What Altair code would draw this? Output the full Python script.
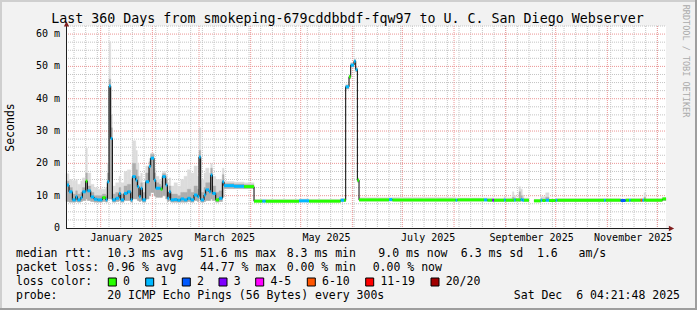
import altair as alt
import pandas as pd

# ---------------- data ----------------
seg_date = [
    "2024-12-11T04:21:48Z", "2024-12-13", "2024-12-15", "2024-12-17", "2024-12-18",
    "2024-12-20", "2024-12-21", "2024-12-23", "2024-12-24", "2024-12-26",
    "2024-12-28", "2024-12-30", "2025-01-02", "2025-01-04", "2025-01-05",
    "2025-01-06", "2025-01-07", "2025-01-08", "2025-01-10", "2025-01-12",
    "2025-01-13", "2025-01-15", "2025-01-17", "2025-01-19", "2025-01-20",
    "2025-01-22", "2025-01-23", "2025-01-24", "2025-01-25", "2025-01-26",
    "2025-01-28", "2025-01-30", "2025-01-31", "2025-02-02", "2025-02-03",
    "2025-02-05", "2025-02-06", "2025-02-07", "2025-02-09", "2025-02-10",
    "2025-02-11", "2025-02-12", "2025-02-14", "2025-02-16", "2025-02-18",
    "2025-02-20", "2025-02-22", "2025-02-24", "2025-02-26", "2025-02-28",
    "2025-03-01", "2025-03-02", "2025-03-04", "2025-03-05", "2025-03-07",
    "2025-03-08", "2025-03-09", "2025-03-11", "2025-03-13", "2025-03-15",
    "2025-03-16", "2025-03-22", "2025-03-28", "2025-04-03", "2025-04-08",
    "2025-04-10", "2025-04-30", "2025-05-06", "2025-05-25", "2025-05-27",
    "2025-05-28", "2025-05-30", "2025-05-31", "2025-06-02", "2025-06-03",
    "2025-06-04", "2025-06-05", "2025-06-23", "2025-06-25", "2025-08-02",
    "2025-08-03", "2025-08-19", "2025-08-21", "2025-08-24", "2025-08-25",
    "2025-08-31", "2025-09-01", "2025-09-05", "2025-09-06", "2025-09-07",
    "2025-09-09", "2025-09-10", "2025-09-11", "2025-09-12", "2025-09-15",
    "2025-09-18", "2025-09-22", "2025-09-23", "2025-09-25", "2025-09-27",
    "2025-10-01", "2025-10-02", "2025-10-30", "2025-10-31", "2025-11-09",
    "2025-11-12", "2025-11-14", "2025-11-15", "2025-11-21", "2025-11-22",
    "2025-11-23", "2025-11-24", "2025-12-04",
]
med_ms = [
    13.3, 11.2, 8.7, 9.7, 8.7, 9.4, 11.2, 14.5, 11.5, 9.6,
    8.9, 8.7, 9.4, 8.7, 14.3, 43.9, 27.7, 8.7, 9.2, 10.7,
    8.7, 10.7, 11.2, 8.7, 15.9, 14.8, 12.8, 9.7, 12.3, 8.7,
    14.3, 19.0, 21.6, 14.8, 12.3, 12.3, 12.0, 15.9, 13.3, 9.2,
    11.2, 8.7, 8.8, 8.6, 9.0, 8.7, 9.2, 8.7, 10.2, 9.7,
    22.0, 8.7, 10.2, 11.8, 11.2, 16.4, 10.7, 8.7, 9.2, 14.3,
    13.1, 12.9, 12.8, 8.3, 8.3, 8.3, 8.4, 8.3, 8.6, 8.6,
    43.7, 46.8, 50.4, 51.6, 49.0, 14.8, 8.7, 8.8, 8.7, 8.6,
    8.7, 8.7, 8.6, 8.6, 8.6, 8.7, 8.6, 8.6, 8.7, 8.7,
    8.7, 8.8, 8.6, 8.6, None, 8.4, 8.6, 8.5, 8.6, 8.5,
    8.6, 8.6, 8.6, 8.6, 8.5, 8.6, 8.6, 8.6, 8.6, 8.6,
    8.7, 8.6, 9.0,
]
loss_cls = [
    "1", "1", "1", "1", "1", "1", "1", "0", "1", "1",
    "1", "1", "0", "1", "1", "1", "1", "1", "1", "1",
    "1", "1", "1", "1", "1", "1", "1", "1", "1", "1",
    "1", "1", "1", "1", "1", "1", "0", "1", "1", "1",
    "1", "1", "1", "1", "1", "1", "1", "1", "1", "1",
    "1", "1", "1", "1", "1", "1", "1", "0", "1", "1",
    "1", "1", "0", "0", "1", "0", "1", "0", "1", "0",
    "1", "0", "1", "1", "1", "0", "0", "1", "0", "1",
    "0", "1", "0", "3", "0", "1", "0", "0", "1", "0",
    "0", "1", "1", "0", None, "0", "1", "0", "1", "0",
    "1", "0", "1", "0", "2", "0", "1", "0", "6-10", "1",
    "0", "0", "0",
]
smoke_lo = [
    8.2, 8.0, 8.0, 8.2, 8.0, 8.2, 8.5, 9.0, 8.5, 8.2,
    8.0, 8.0, 8.2, 8.0, 9.0, 9.0, 9.0, 8.0, 8.2, 8.5,
    8.0, 8.5, 8.5, 8.0, 9.0, 9.0, 8.5, 8.2, 8.5, 8.0,
    9.0, 10.0, 11.0, 10.0, 9.5, 9.5, 9.5, 10.0, 9.0, 8.2,
    8.5, 8.0, 8.0, 8.0, 8.0, 8.0, 8.2, 8.0, 8.5, 8.2,
    9.0, 8.0, 8.2, 8.5, 8.5, 9.0, 8.5, 8.0, 8.2, 9.5,
    12.2, 12.2, 12.2, 8.1, 8.1, 8.1, 8.1, 8.1, 8.2, 8.2,
    43.0, 46.2, 49.8, 51.0, 48.4, 14.2, 8.4, 8.4, 8.4, 8.4,
    8.4, 8.4, 8.4, 8.4, 8.3, 8.3, 8.3, 8.3, 8.3, 8.3,
    8.3, 8.3, 8.3, 8.3, None, 8.2, 8.3, 8.3, 8.3, 8.3,
    8.3, 8.3, 8.3, 8.3, 8.3, 8.3, 8.3, 8.3, 8.3, 8.3,
    8.3, 8.3, 8.5,
]
smoke_mid = [
    14.5, 12.5, 10.5, 11.5, 10.5, 11.0, 12.5, 17.0, 13.0, 11.0,
    10.0, 10.0, 10.5, 10.0, 17.0, 46.0, 31.0, 10.5, 11.0, 12.5,
    10.5, 13.0, 13.5, 11.0, 20.0, 18.0, 16.0, 12.0, 14.0, 11.0,
    17.0, 20.5, 22.8, 17.0, 14.0, 13.5, 13.0, 16.8, 15.0, 11.0,
    13.0, 10.5, 10.5, 10.0, 11.0, 11.0, 12.0, 11.0, 13.0, 12.0,
    24.0, 11.0, 12.5, 14.0, 14.0, 18.5, 13.0, 11.0, 11.5, 16.5,
    13.8, 13.6, 13.4, 8.5, 8.5, 8.5, 8.6, 8.5, 8.8, 8.8,
    44.0, 47.1, 50.8, 52.0, 49.4, 15.1, 8.9, 9.0, 8.9, 8.8,
    8.9, 8.9, 8.8, 8.8, 8.8, 9.0, 8.8, 9.5, 9.2, 8.9,
    11.2, 10.0, 9.2, 8.8, None, 8.6, 9.0, 9.0, 9.5, 8.7,
    8.8, 8.8, 8.8, 8.8, 8.7, 8.8, 8.8, 8.8, 8.8, 8.8,
    9.5, 8.8, 9.2,
]
smoke_hi = [
    16.8, 15.0, 14.5, 15.0, 13.5, 14.5, 15.5, 24.7, 17.0, 13.5,
    12.5, 12.0, 12.0, 12.5, 20.0, 57.6, 35.0, 13.0, 14.0, 16.0,
    14.0, 17.5, 18.0, 15.0, 27.0, 24.0, 20.0, 16.0, 17.0, 14.0,
    19.2, 21.5, 23.2, 18.5, 16.0, 15.0, 14.5, 17.5, 16.5, 14.0,
    15.5, 13.0, 14.0, 13.0, 15.0, 16.0, 18.0, 17.0, 19.2, 16.0,
    31.0, 15.0, 17.0, 18.5, 17.0, 20.0, 16.0, 15.0, 15.0, 18.5,
    14.4, 14.2, 14.0, 8.9, 8.9, 8.9, 9.0, 8.9, 9.1, 9.1,
    44.5, 47.5, 51.2, 52.4, 49.8, 15.5, 9.4, 9.4, 9.4, 9.3,
    9.3, 9.3, 9.3, 9.3, 9.2, 9.7, 9.3, 11.2, 10.0, 9.3,
    12.8, 12.0, 10.2, 9.3, None, 8.9, 9.7, 9.7, 10.9, 9.0,
    9.1, 9.1, 9.1, 9.1, 9.0, 9.1, 9.1, 9.1, 9.2, 9.2,
    10.9, 9.1, 9.4,
]

loss_labels = ["0", "1", "2", "3", "4-5", "6-10", "11-19", "20/20"]
loss_colors = ["#26ff00", "#00b8ff", "#0059ff", "#7e00ff", "#ff00ff",
               "#ff5500", "#ff0000", "#a10000"]

x_labels = ["January 2025", "March 2025", "May 2025", "July 2025",
            "September 2025", "November 2025"]
x_label_at = ["2025-01-16T12:00:00Z", "2025-03-16T12:00:00Z", "2025-05-16T12:00:00Z",
              "2025-07-16T12:00:00Z", "2025-09-16T12:00:00Z", "2025-11-16T12:00:00Z"]
y_ticks = [0, 10, 20, 30, 40, 50, 60]

title_text = "Last 360 Days from smokeping-679cddbbdf-fqw97 to U. C. San Diego Webserver"
END = "2025-12-06T04:21:48Z"

# ---------------- layout ----------------
L, T, W, H = 66, 26, 600, 202
FONT = "DejaVu Sans Mono"

df = pd.DataFrame({
    "start": seg_date, "med": med_ms, "cls": loss_cls,
    "lo": smoke_lo, "mid": smoke_mid, "hi": smoke_hi,
})
df["end"] = seg_date[1:] + [END]
df["seg"] = df["med"].isna().cumsum()
valid = df[df["med"].notna()]

xs = alt.Scale(type="utc", domain=[
    alt.DateTime(year=2024, month=12, date=11, hours=4, minutes=21, seconds=48, utc=True),
    alt.DateTime(year=2025, month=12, date=6, hours=4, minutes=21, seconds=48, utc=True)])
ys = alt.Scale(domain=[0, 62.5], nice=False, zero=False)

# grid
ymin_vals = [v * 2.5 for v in range(1, 26) if (v * 2.5) % 10 != 0]
ymaj_vals = [10, 20, 30, 40, 50, 60]
xmaj_vals = list(pd.date_range("2025-01-01", "2025-12-01", freq="MS").strftime("%Y-%m-%dT00:00:00Z"))
xmin_vals = list(pd.date_range("2024-12-16", "2025-12-01", freq="W-MON").strftime("%Y-%m-%dT00:00:00Z"))

GRID = "#c4c4c4"
MGRID = "#eb9595"

g_ymin = alt.Chart(pd.DataFrame({"v": ymin_vals})).mark_rule(
    color=GRID, strokeDash=[1, 1], strokeWidth=1).encode(
    y=alt.Y("v:Q", scale=ys, axis=None), x=alt.value(0), x2=alt.value(W))
g_xmin = alt.Chart(pd.DataFrame({"d": xmin_vals})).mark_rule(
    color=GRID, strokeDash=[1, 1], strokeWidth=1).encode(
    x=alt.X("d:T", scale=xs, axis=None), y=alt.value(0), y2=alt.value(H))
g_ymaj = alt.Chart(pd.DataFrame({"v": ymaj_vals})).mark_rule(
    color=MGRID, strokeDash=[1, 1], strokeWidth=1).encode(
    y=alt.Y("v:Q", scale=ys, axis=None), x=alt.value(0), x2=alt.value(W))
g_xmaj = alt.Chart(pd.DataFrame({"d": xmaj_vals})).mark_rule(
    color=MGRID, strokeDash=[1, 1], strokeWidth=1).encode(
    x=alt.X("d:T", scale=xs, axis=None), y=alt.value(0), y2=alt.value(H))

# smoke
smoke_outer = alt.Chart(valid).mark_rect(color="#dcdcdc", stroke="#dcdcdc", strokeWidth=0.4).encode(
    x=alt.X("start:T", scale=xs, axis=None), x2="end:T",
    y=alt.Y("lo:Q", scale=ys, axis=None), y2="hi:Q")
smoke_inner = alt.Chart(valid).mark_rect(color="#adadad", stroke="#adadad", strokeWidth=0.4).encode(
    x=alt.X("start:T", scale=xs, axis=None), x2="end:T",
    y=alt.Y("lo:Q", scale=ys, axis=None), y2="mid:Q")

# median
med_line = alt.Chart(df).mark_line(interpolate="step-after", color="#000000", strokeWidth=1).encode(
    x=alt.X("start:T", scale=xs, axis=None),
    y=alt.Y("med:Q", scale=ys, axis=None),
    detail="seg:N")
med_col = alt.Chart(valid).mark_rule(strokeWidth=3).encode(
    x=alt.X("start:T", scale=xs, axis=None), x2="end:T",
    y=alt.Y("med:Q", scale=ys, axis=None),
    color=alt.Color("cls:N", scale=alt.Scale(domain=loss_labels, range=loss_colors), legend=None))

dummy = pd.DataFrame({"a": [0]})

# axes
x_axis = alt.Chart(dummy).mark_rule(color="#1f1f1f", strokeWidth=1).encode(
    x=alt.value(0), x2=alt.value(W + 3), y=alt.value(H + 0.5))
y_axis = alt.Chart(dummy).mark_rule(color="#1f1f1f", strokeWidth=1).encode(
    x=alt.value(0.5), y=alt.value(-1), y2=alt.value(H))
x_arrow = alt.Chart(dummy).mark_point(shape="M-1,-1L1,0L-1,1Z", filled=True, size=28,
                                      color="#801f1f", opacity=1).encode(
    x=alt.value(W + 5.5), y=alt.value(H + 0.5))
y_arrow = alt.Chart(dummy).mark_point(shape="M-1,1L0,-1L1,1Z", filled=True, size=28,
                                      color="#801f1f", opacity=1).encode(
    x=alt.value(0.5), y=alt.value(-2.2))

xlab = alt.Chart(pd.DataFrame({"d": x_label_at, "t": x_labels})).mark_text(
    font=FONT, fontSize=10, color="#000000", baseline="middle", align="center").encode(
    x=alt.X("d:T", scale=xs, axis=None), y=alt.value(237.5 - T), text="t:N")
ylab = alt.Chart(pd.DataFrame({
    "v": y_ticks,
    "t": [f"{v} m" if v else "0\u00a0\u00a0" for v in y_ticks]})).mark_text(
    font=FONT, fontSize=10, color="#000000", baseline="middle", align="right").encode(
    y=alt.Y("v:Q", scale=ys, axis=None), x=alt.value(60 - L), text="t:N")


def txt(s, x, y, size=11.5, align="left", baseline="middle", angle=0, color="#000000"):
    mk = dict(font=FONT, fontSize=size, align=align, baseline=baseline, color=color)
    if angle:
        mk["angle"] = angle
    return alt.Chart(pd.DataFrame({"t": [s]})).mark_text(**mk).encode(
        x=alt.value(x - L), y=alt.value(y - T), text="t:N")


def box(x0, y0, w, h, fill, stroke=None, sw=0):
    mk = dict(color=fill)
    if stroke:
        mk.update(stroke=stroke, strokeWidth=sw)
    return alt.Chart(dummy).mark_rect(**mk).encode(
        x=alt.value(x0 - L), x2=alt.value(x0 + w - L),
        y=alt.value(y0 - T), y2=alt.value(y0 + h - T))


texts = [
    txt(title_text, 347.5, 23, size=13.3, align="center", baseline="alphabetic"),
    txt("Seconds", 10.8, 127.5, size=11.5, align="center", angle=270),
    txt("RRDTOOL / TOBI OETIKER", 686, 61, size=8.5, align="center", angle=90, color="#aaaaaa"),
    # row 1
    txt("median rtt:", 16, 254.3),
    txt("10.3 ms avg", 107.3, 254.3),
    txt("51.6 ms max", 200, 254.3),
    txt("8.3 ms min", 286.7, 254.3),
    txt("9.0 ms now", 378.3, 254.3),
    txt("6.3 ms sd", 460.8, 254.3),
    txt("1.6\u00a0\u00a0\u00a0am/s", 537, 254.3),
    # row 2
    txt("packet loss:", 16, 268.3),
    txt("0.96 % avg", 107.3, 268.3),
    txt("44.77 % max", 200, 268.3),
    txt("0.00 % min", 286.7, 268.3),
    txt("0.00 % now", 372.7, 268.3),
    # row 3
    txt("loss color:", 16, 282.3),
    # row 4
    txt("probe:", 16, 296),
    txt("20 ICMP Echo Pings (56 Bytes) every 300s", 107.3, 296),
    txt("Sat Dec\u00a0\u00a06 04:21:48 2025", 680, 296, align="right"),
]

box_x = [108.3, 145.7, 182.3, 219, 255.7, 307.3, 365.7, 431]
swatches = []
for bx, lab, col in zip(box_x, loss_labels, loss_colors):
    swatches.append(box(bx, 278, 8, 8, col, "#000000", 1))
    swatches.append(txt(lab, bx + 14.7, 282.3))

# frame shading
frame = [
    box(0, 0, 697, 2, "#cfcfcf"),
    box(0, 0, 2, 310, "#cfcfcf"),
    box(0, 308, 697, 2, "#9e9e9e"),
    box(695, 0, 2, 310, "#9e9e9e"),
]

chart = alt.layer(
    g_ymin, g_xmin, g_ymaj, g_xmaj,
    smoke_outer, smoke_inner, med_line, med_col,
    x_axis, y_axis, x_arrow, y_arrow, xlab, ylab,
    *texts, *swatches, *frame,
).properties(
    width=W, height=H,
    autosize=alt.AutoSizeParams(type="none"),
    padding={"left": L, "top": T, "right": 697 - L - W, "bottom": 310 - T - H},
    background="#f2f2f2",
).configure_view(fill="#ffffff", strokeWidth=0)

chart.save("out.html", embed_options={"renderer": "svg", "actions": False})
